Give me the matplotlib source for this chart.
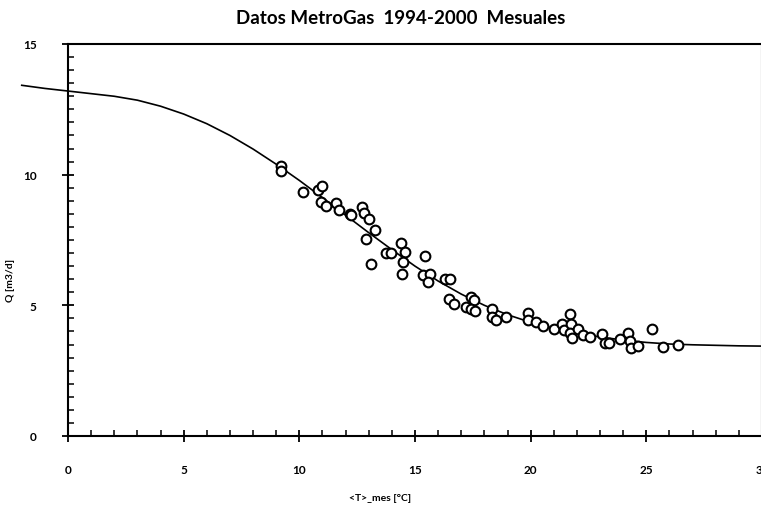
import numpy as np
import matplotlib
matplotlib.use('Agg')
import matplotlib.pyplot as plt
from matplotlib.ticker import MultipleLocator

plt.rcParams['font.family'] = ['Lato', 'DejaVu Sans']

# smooth fitted curve
curve_t = [-2, -1, 0, 1, 2, 3, 4, 5, 6, 7, 8, 9, 10, 11, 12, 13, 14, 15,
           16, 17, 18, 19, 20, 21, 22, 23, 24, 25, 26, 27, 28, 29, 30]
curve_q = [13.42, 13.3, 13.2, 13.1, 13.0, 12.85, 12.62, 12.32, 11.95, 11.5,
           10.98, 10.4, 9.78, 9.12, 8.45, 7.78, 7.13, 6.5, 5.93, 5.43, 5.0,
           4.64, 4.35, 4.12, 3.94, 3.79, 3.67, 3.58, 3.52, 3.49, 3.47, 3.45,
           3.44]

# monthly data points
temp = [9.2, 9.2, 10.15, 10.8, 11.0, 10.95, 11.15, 11.6, 11.7, 12.2, 12.25,
        12.7, 12.8, 13.0, 13.25, 12.9, 13.1, 13.75, 13.95, 14.4, 14.55, 14.5,
        14.45, 15.45, 15.35, 15.65, 15.55, 16.3, 16.5, 16.45, 16.7, 17.2,
        17.4, 17.55, 17.4, 17.6, 18.35, 18.35, 18.5, 18.95, 19.9, 19.9,
        20.25, 20.55, 21.0, 21.35, 21.45, 21.7, 21.75, 21.7, 21.8, 22.05,
        22.25, 22.55, 23.1, 23.2, 23.4, 23.85, 24.2, 24.3, 24.35, 24.65,
        25.25, 25.7, 26.35]
caudal = [10.35, 10.15, 9.35, 9.4, 9.55, 8.95, 8.8, 8.9, 8.65, 8.5, 8.45,
          8.75, 8.55, 8.3, 7.9, 7.55, 6.6, 7.0, 7.0, 7.4, 7.05, 6.65,
          6.2, 6.9, 6.15, 6.2, 5.9, 6.0, 6.0, 5.25, 5.05, 4.95,
          5.3, 5.2, 4.85, 4.8, 4.85, 4.55, 4.45, 4.55, 4.7, 4.45,
          4.35, 4.2, 4.1, 4.3, 4.05, 4.65, 4.3, 3.95, 3.75, 4.1,
          3.85, 3.8, 3.9, 3.55, 3.55, 3.7, 3.95, 3.65, 3.35, 3.45,
          4.1, 3.4, 3.5]

fig = plt.figure(figsize=(7.61, 5.10), dpi=100)
ax = fig.add_axes([68 / 761, 1 - 437 / 510, (762 - 68) / 761, (437 - 45) / 510])

ax.plot(curve_t, curve_q, color='black', lw=1.2, clip_on=False, zorder=2)
ax.plot(temp, caudal, 'o', mfc='white', mec='black', mew=1.5, ms=7,
        zorder=3)

ax.set_xlim(0, 30)
ax.set_ylim(0, 15)
ax.xaxis.set_major_locator(MultipleLocator(5))
ax.xaxis.set_minor_locator(MultipleLocator(1))
ax.yaxis.set_major_locator(MultipleLocator(5))
ax.yaxis.set_minor_locator(MultipleLocator(0.5))

for s in ax.spines.values():
    s.set_linewidth(1.5)

ax.tick_params(which='major', direction='inout', length=9, width=1.3,
               labelsize=8.5, top=False, right=False)
ax.tick_params(axis='x', which='major', pad=16)
ax.tick_params(axis='y', which='major', pad=18)
ax.tick_params(which='minor', direction='in', length=4, width=1.1,
               top=False, right=False)
for lab in ax.get_xticklabels() + ax.get_yticklabels():
    lab.set_fontweight('bold')

ax.set_xlabel('<T>_mes [°C]', fontsize=7.5, fontweight='bold')
ax.xaxis.set_label_coords((380 - 68) / 694, -(494 - 437) / 392)
ax.set_ylabel('Q [m3/d]', fontsize=7.5, fontweight='bold')
ax.yaxis.set_label_coords(-(68 - 15) / 694, (437 - 280) / 392)
fig.text(401 / 761, 1 - 18 / 510, 'Datos MetroGas  1994-2000  Mesuales',
         ha='center', va='center', fontsize=13.5, fontweight='bold')

fig.savefig('out.png', dpi=100)
